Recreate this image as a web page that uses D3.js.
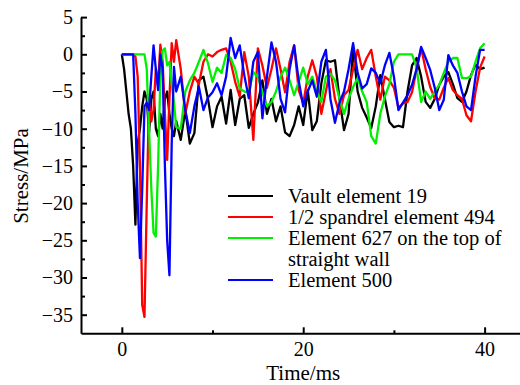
<!DOCTYPE html>
<html>
<head>
<meta charset="utf-8">
<script src="https://cdn.jsdelivr.net/npm/d3@7"></script>
<style>
html,body{margin:0;padding:0;background:#fff;}
svg{display:block;font-family:"Liberation Serif","Times New Roman",serif;}
</style>
</head>
<body>
<svg id="chart" width="520" height="385"></svg>
<script>
// ---- data ----
const time = [0,0.25,0.5,0.75,1,1.25,1.5,1.75,2,2.25,2.5,2.75,3,3.25,3.5,3.75,4,4.25,4.5,4.75,5,5.25,5.5,5.75,6,
  6.5,7,7.5,8,8.5,9,9.5,10,10.5,11,11.5,12,12.5,13,13.5,14,14.5,15,15.5,16,16.5,17,17.5,18,18.5,19,19.5,20,
  20.5,21,21.5,22,22.5,23,23.5,24,24.5,25,25.5,26,26.5,27,27.5,28,28.5,29,29.5,30,30.5,31,31.5,32,32.5,33,33.5,
  34,34.5,35,35.5,36,36.5,37,37.5,38,38.5,39,39.5,40];

const vault19 = [0,-2,-5,-8,-10,-15,-22.9,-12,-10,-7,-5,-6,-10.5,-6,-5,-10,-11,-8,-10,-6,-5,-8,-10,-11,-9,
  -11.5,-7.5,-12,-10.6,-3.5,-3,-6,-9.8,-7,-5.7,-9.3,-4.8,-9.5,-6,-5.5,-9.9,-8,-6.5,-3.5,-8,-6,-9,-7,-10.5,-11,-9.5,-7,-9.5,
  -4.8,-10.2,-9,-3.9,-0.8,-1,-0.8,-6,-10.2,-8,0.8,-5,-7.2,-8.5,-9.9,-7,-2.8,-6,-9.1,-9.8,-9.6,-9.8,-5,-1.5,-0.5,-3,-6.4,
  -7.2,-6,-4.1,-3,-2.4,-4,-5.9,-6.4,-5,-2.8,-1.4,-2,-1.8];

const spandrel494 = [0,0,0,0,0,0,-0.3,-3,-15,-33.7,-35.3,-20,-6,-9,-7.5,-2,-4,1.3,-1,-8,-14.2,-6,1.5,-1,1.9,
  -2,-8,-5,-3,-4,-1,0,-0.3,0.3,0.6,0.8,-1,-3.7,-5.7,0.3,-3,-11.5,0.8,-1.5,-4.5,-2,0.8,-2,-5.1,-1,1.2,-4.8,-6.6,
  -3,-0.8,-3,-8,-5,-2,-6,-8,-5.5,-4.8,-2,0.6,-2,-0.5,0.6,-3,-6.1,-3,-3.5,-4.5,-7.2,-6.6,-6.4,-5.1,-2,0.8,-2,
  -4.4,-5.9,-6.1,-4.5,-3.2,-4.8,-5.5,-6,-8.2,-9,-5,-1.8,-0.3];

const element627 = [0,0,0,0,0,0,0,0,0,0,0,-2,-10,-18,-24,-24.5,-15,-3,0.5,0.8,-1.5,-1,-4,-6.5,-9.8,
  -10,-5,-3.5,-2.5,-1,0.6,-1.2,-3.7,-1.8,-2.5,-0.1,-0.5,-2,-4.6,-5,-5.1,-2.4,-3,-5.1,-7,-6.4,-5,-3,-1.8,-3.5,-5.5,-3.7,-1.8,
  -4,-3,-5,-6.4,-3,-2.6,-3.5,-6,-8,-6,-4.4,-3.2,-5,-6.4,-11,-12,-8,-5.7,-4,-1,0,0,0,0,-1.8,-6.4,-5,
  -6,-5,-4.1,-2.5,-1,-0.5,-0.5,-3.2,-3.2,-3,-1,0.8,1.5];

const element500 = [0,0,0,0,0,0,-8,-20,-27.4,-18,-7,-6.5,-7.5,-3,1.2,-2,-4.8,0,-2,-15,-25,-29.7,-12,-1.7,-5,
  -3,-7.5,-10.6,-7,-4.4,-7.5,-5.8,-5.1,-3.9,-5.5,-3,2.2,-0.5,1.2,-2.8,-5.9,-1,0.3,-8.6,-3,1.6,-1,-6,-7.8,-2,1.2,-3.5,-7,
  -5,-3.5,-5.7,-1,0.6,-6,-9.2,-6.5,-5,-2,1.5,-2.5,-4.6,-4,-1.9,-2.5,-3.9,-1.5,0.2,-3,-7.5,-6.5,-5.5,-4.1,-2,1,-0.5,
  -2.1,-4.5,-7.5,-6.1,-0.1,-1.5,-2.5,-5,-7,-7.5,-3,0.6,0.6];

const seriesNames = ["Vault element 19","1/2 spandrel element 494","Element 627 on the top of","Element 500"];
const seriesColors = ["#000000","#ff0000","#00f000","#0000ff"];
const yMajorTicks = [5,0,-5,-10,-15,-20,-25,-30,-35];
const yMinorTicks = [2.5,-2.5,-7.5,-12.5,-17.5,-22.5,-27.5,-32.5];
const xMajorTicks = [0,20,40];
const xMinorTicks = [10,30];

// ---- chart ----
const svg = d3.select("#chart");
const x = d3.scaleLinear().domain([-4.5, 45]).range([81, 81 + 49.5 * 9.07]);
const y = d3.scaleLinear().domain([-37.5, 5]).range([333.3, 17.1]);

const series = [vault19, spandrel494, element627, element500];
const line = d3.line().x((d, i) => x(time[i])).y(d => y(d));

series.forEach((s, k) => {
  svg.append("path")
    .datum(s)
    .attr("fill", "none")
    .attr("stroke", seriesColors[k])
    .attr("stroke-width", 2.3)
    .attr("stroke-linejoin", "round")
    .attr("d", line);
});

// axes
svg.append("g").attr("transform", "translate(81,0)")
  .call(d3.axisLeft(y).tickValues(yMajorTicks).tickSizeInner(-6).tickSizeOuter(0).tickPadding(8));
svg.append("g").attr("transform", "translate(81,0)")
  .call(d3.axisLeft(y).tickValues(yMinorTicks).tickSizeInner(-4).tickSizeOuter(0).tickFormat(""))
  .select(".domain").remove();
svg.append("g").attr("transform", "translate(0,333.3)")
  .call(d3.axisBottom(x).tickValues(xMajorTicks).tickSizeInner(-6).tickSizeOuter(0).tickPadding(9));
svg.append("g").attr("transform", "translate(0,333.3)")
  .call(d3.axisBottom(x).tickValues(xMinorTicks).tickSizeInner(-3).tickSizeOuter(0).tickFormat(""))
  .select(".domain").remove();

svg.selectAll(".domain").attr("stroke-width", 2).attr("stroke", "#000");
svg.selectAll(".tick line").attr("stroke-width", 2).attr("stroke", "#000");
svg.selectAll(".tick text").attr("font-family", "Liberation Serif").attr("font-size", 20).attr("fill", "#000");

// axis titles
svg.append("text")
  .attr("x", x(20)).attr("y", 380)
  .attr("text-anchor", "middle")
  .attr("font-size", 21).text("Time/ms");
svg.append("text")
  .attr("transform", "translate(28,176) rotate(-90)")
  .attr("text-anchor", "middle")
  .attr("font-size", 21).text("Stress/MPa");

// legend
const legendRows = [
  {name: seriesNames[0], color: seriesColors[0], base: 203, line: true},
  {name: seriesNames[1], color: seriesColors[1], base: 224, line: true},
  {name: seriesNames[2], color: seriesColors[2], base: 245, line: true},
  {name: "straight wall", color: null, base: 266, line: false},
  {name: seriesNames[3], color: seriesColors[3], base: 287, line: true}
];
const lg = svg.append("g");
legendRows.forEach(r => {
  if (r.line) {
    lg.append("line").attr("x1", 228).attr("x2", 273)
      .attr("y1", r.base - 7).attr("y2", r.base - 7)
      .attr("stroke", r.color).attr("stroke-width", 2);
  }
  lg.append("text").attr("x", 288).attr("y", r.base)
    .attr("font-size", 20.5).text(r.name);
});
</script>
</body>
</html>
